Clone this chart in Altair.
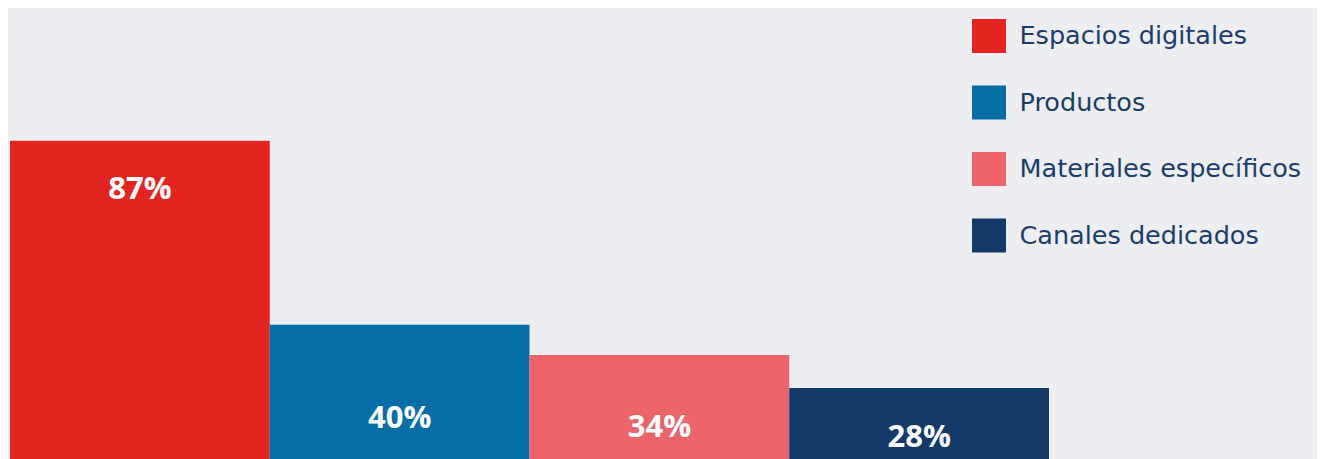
import altair as alt
import pandas as pd

categories = ["Espacios digitales", "Productos", "Materiales específicos", "Canales dedicados"]
values = [87, 40, 34, 28]
labels = ["87%", "40%", "34%", "28%"]
colors = ["#e32421", "#066ea6", "#ec6469", "#143a69"]

df = pd.DataFrame({"categoria": categories, "valor": values, "etiqueta": labels})

FONT = "Open Sans"
LEGEND_FONT = "DejaVu Sans"

x = alt.X("categoria:N", sort=categories, axis=None,
          scale=alt.Scale(paddingInner=0, paddingOuter=0.5159, align=0))
yscale = alt.Scale(type="sqrt", domain=[17.06, 132.2], clamp=True, zero=False, nice=False)

bars = alt.Chart(df).mark_bar(stroke=None, strokeWidth=0).encode(
    x=x,
    y=alt.Y("valor:Q", scale=yscale, axis=None),
    y2=alt.datum(0),
    color=alt.Color(
        "categoria:N",
        sort=categories,
        scale=alt.Scale(domain=categories, range=colors),
        legend=alt.Legend(
            title=None,
            orient="none",
            legendX=962,
            legendY=11,
            symbolType="square",
            symbolSize=1156,
            symbolStrokeWidth=0,
            symbolOpacity=1,
            labelFont=LEGEND_FONT,
            labelFontSize=25.5,
            labelBaseline="middle",
            labelColor="#1b3d6d",
            labelOffset=13.5,
            rowPadding=32.5,
            padding=0,
            labelLimit=400,
        ),
    ),
)

text = alt.Chart(df).transform_calculate(
    pos="datum.valor > 60 ? datum.valor - 14.3 : pow(2.892 + 0.3 * sqrt(datum.valor), 2)"
).mark_text(
    font=FONT, fontSize=31, fontWeight="bold", color="white", baseline="middle", align="center"
).encode(
    x=x,
    y=alt.Y("pos:Q", scale=yscale, axis=None),
    text="etiqueta:N",
)

chart = alt.layer(bars, text).properties(
    width=1307,
    height=451,
    background="#eceef1",
    padding={"left": 2, "top": 0, "right": 0, "bottom": 0},
    autosize=alt.AutoSizeParams(type="none"),
).configure_view(stroke=None)

chart.save("out.html", embed_options={"renderer": "svg", "actions": False})
